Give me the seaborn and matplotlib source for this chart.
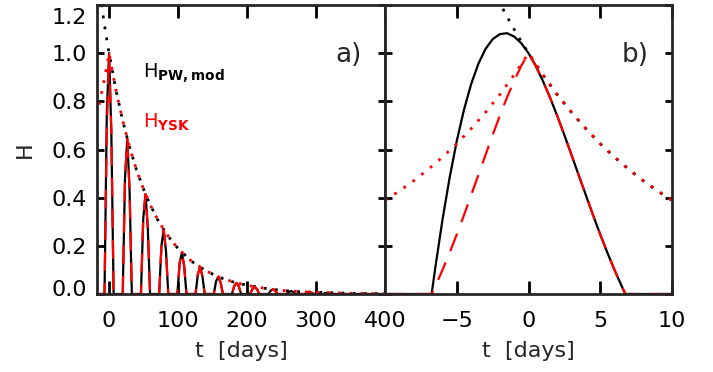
import matplotlib
matplotlib.use("Agg")
import matplotlib.pyplot as plt
import seaborn as sns
from matplotlib.transforms import ScaledTranslation

# ---------------- panel a) data (read from the picture) ----------------
t_a = [-18,
       -6.6, -3.3, 0.0, 3.3, 6.6,
       19.8, 23.1, 26.4, 29.7, 33.0,
       46.2, 49.5, 52.8, 56.1, 59.4,
       72.6, 75.9, 79.2, 82.5, 85.8,
       99.0, 102.3, 105.6, 108.9, 112.2,
       125.4, 128.7, 132.0, 135.3, 138.6,
       151.8, 155.1, 158.4, 161.7, 165.0,
       178.2, 181.5, 184.8, 188.1, 191.4,
       204.6, 207.9, 211.2, 214.5, 217.8,
       231.0, 234.3, 237.6, 240.9, 244.2,
       257.4, 260.7, 264.0, 267.3, 270.6,
       283.8, 287.1, 290.4, 293.7, 297.0,
       310.2, 313.5, 316.8, 320.1, 323.4,
       400]
h_pw_a = [0,
          0, 0.747, 1.000, 0.669, 0,
          0, 0.481, 0.644, 0.431, 0,
          0, 0.310, 0.415, 0.278, 0,
          0, 0.200, 0.267, 0.179, 0,
          0, 0.129, 0.172, 0.115, 0,
          0, 0.083, 0.111, 0.074, 0,
          0, 0.053, 0.071, 0.048, 0,
          0, 0.034, 0.046, 0.031, 0,
          0, 0.021, 0.030, 0.020, 0,
          0, 0.014, 0.019, 0.013, 0,
          0, 0.009, 0.012, 0.008, 0,
          0, 0.006, 0.008, 0.005, 0,
          0, 0.004, 0.005, 0.003, 0,
          0]
h_ysk_a = [0,
           0, 0.669, 1.000, 0.669, 0,
           0, 0.481, 0.644, 0.431, 0,
           0, 0.310, 0.415, 0.278, 0,
           0, 0.200, 0.267, 0.179, 0,
           0, 0.129, 0.172, 0.115, 0,
           0, 0.083, 0.111, 0.074, 0,
           0, 0.053, 0.071, 0.048, 0,
           0, 0.034, 0.046, 0.031, 0,
           0, 0.021, 0.030, 0.020, 0,
           0, 0.014, 0.019, 0.013, 0,
           0, 0.009, 0.012, 0.008, 0,
           0, 0.006, 0.008, 0.005, 0,
           0, 0.004, 0.005, 0.003, 0,
           0]
t_env_a = [-18, -15, -12, -9, -6, -3, 0, 10, 20, 30, 40, 50, 60, 70, 80, 90,
           100, 120, 140, 160, 180, 200, 225, 250, 275, 300, 350, 400]
env_pw_a = [1.350, 1.284, 1.221, 1.162, 1.105, 1.051, 1.000, 0.846, 0.717,
            0.607, 0.513, 0.435, 0.368, 0.311, 0.264, 0.223, 0.189, 0.135,
            0.097, 0.069, 0.050, 0.036, 0.024, 0.015, 0.010, 0.007, 0.003, 0.001]
env_ysk_a = [0.741, 0.779, 0.819, 0.861, 0.905, 0.951, 1.000, 0.846, 0.717,
             0.607, 0.513, 0.435, 0.368, 0.311, 0.264, 0.223, 0.189, 0.135,
             0.097, 0.069, 0.050, 0.036, 0.024, 0.015, 0.010, 0.007, 0.003, 0.001]

# ---------------- panel b) data (read from the picture) ----------------
t_b = [-10, -6.75, -6.5, -6, -5.5, -5, -4.5, -4, -3.5, -3, -2.5, -2, -1.5, -1,
       -0.5, 0, 0.5, 1, 1.5, 2, 2.5, 3, 3.5, 4, 4.5, 5, 5.5, 6, 6.5, 6.75, 10]
h_pw_b = [0, 0, 0.107, 0.306, 0.482, 0.635, 0.764, 0.871, 0.955, 1.017, 1.058,
          1.079, 1.083, 1.069, 1.041, 1.000, 0.948, 0.885, 0.816, 0.740, 0.660,
          0.577, 0.493, 0.410, 0.327, 0.247, 0.171, 0.099, 0.032, 0, 0]
h_ysk_b = [0, 0, 0.032, 0.099, 0.171, 0.247, 0.327, 0.410, 0.493, 0.577, 0.660,
           0.740, 0.816, 0.885, 0.948, 1.000, 0.948, 0.885, 0.816, 0.740, 0.660,
           0.577, 0.493, 0.410, 0.327, 0.247, 0.171, 0.099, 0.032, 0, 0]
t_env_pw_b = [-2.5, -2, -1.5, -1, -0.5, 0, 1, 2, 3, 4, 5, 6, 7, 8, 9, 10]
env_pw_b = [1.266, 1.208, 1.152, 1.099, 1.048, 1.000, 0.910, 0.828, 0.754,
            0.686, 0.624, 0.568, 0.517, 0.470, 0.428, 0.389]
t_env_ysk_b = [-10, -9, -8, -7, -6, -5, -4, -3, -2, -1, 0, 1, 2, 3, 4, 5, 6, 7, 8, 9, 10]
env_ysk_b = [0.389, 0.428, 0.470, 0.517, 0.568, 0.624, 0.686, 0.754, 0.828, 0.910,
             1.000, 0.910, 0.828, 0.754, 0.686, 0.624, 0.568, 0.517, 0.470, 0.428, 0.389]

xticks_a = [0, 100, 200, 300, 400]
xticks_b = [-5, 0, 5, 10]
yticks = [0.0, 0.2, 0.4, 0.6, 0.8, 1.0, 1.2]
ytick_labels = ["0.0", "0.2", "0.4", "0.6", "0.8", "1.0", "1.2"]

# ---------------- style ----------------
sns.set_style("ticks")
plt.rcParams["font.family"] = ["DejaVu Sans"]
plt.rcParams["mathtext.fontset"] = "dejavusans"

fig = plt.figure(figsize=(7.13, 3.72), dpi=100)
ax1 = fig.add_axes([97 / 713, 1 - 294 / 372, 288 / 713, 289 / 372])
ax2 = fig.add_axes([385 / 713, 1 - 294 / 372, 287 / 713, 289 / 372])

LW = 1.6
dash = (0, (8.5, 5.5))

def draw(ax, t, pw, ysk, te_pw, epw, te_ysk, eysk, dot_off):
    sns.lineplot(x=t, y=pw, ax=ax, color="black", lw=LW, estimator=None,
                 sort=False, zorder=2)
    sns.lineplot(x=te_pw, y=epw, ax=ax, color="black", lw=2.0, estimator=None,
                 sort=False, linestyle=(dot_off, (1, 3)), zorder=2)
    sns.lineplot(x=t, y=ysk, ax=ax, color="red", lw=LW, estimator=None,
                 sort=False, linestyle=dash, zorder=3)
    sns.lineplot(x=te_ysk, y=eysk, ax=ax, color="red", lw=2.0, estimator=None,
                 sort=False, linestyle=(0, (1, 3)), zorder=3)

draw(ax1, t_a, h_pw_a, h_ysk_a, t_env_a, env_pw_a, t_env_a, env_ysk_a, 2)
draw(ax2, t_b, h_pw_b, h_ysk_b, t_env_pw_b, env_pw_b, t_env_ysk_b, env_ysk_b, 0)

ax1.set_xlim(-17.5, 400)
ax2.set_xlim(-10, 10)
for ax in (ax1, ax2):
    ax.set_ylim(0, 1.2)
    ax.set_yticks(yticks)
    for s in ax.spines.values():
        s.set_linewidth(2.0)
        s.set_visible(True)
        s.set_zorder(5)
    ax.tick_params(axis="x", which="major", direction="in", length=9.7,
                   width=2.0, top=True, bottom=True, labelsize=16, pad=12,
                   color="black", labelcolor="black")
    ax.tick_params(axis="y", which="major", direction="in", length=4.7,
                   width=2.0, left=True, right=True, labelsize=16, pad=7,
                   color="black", labelcolor="black")
    ax.set_xlabel("t  [days]", fontsize=16)
    ax.xaxis.set_label_coords(0.5, -0.162)
    ax.set_facecolor("white")

ax1.set_xticks(xticks_a)
ax1.set_xticklabels([str(v) for v in xticks_a])
ax2.set_xticks(xticks_b)
ax2.set_xticklabels(["\u22125", "0", "5", "10"])
ax1.set_yticklabels(ytick_labels)
ax2.set_yticklabels([])
ax1.set_ylabel("H", fontsize=16)
ax1.yaxis.set_label_coords(-0.215, 0.5)
ax2.set_ylabel("")

# IDL-style inward shift of the end y tick labels
ylabs = ax1.get_yticklabels()
ylabs[0].set_transform(ylabs[0].get_transform() +
                       ScaledTranslation(0, 0.06, fig.dpi_scale_trans))
ylabs[-1].set_transform(ylabs[-1].get_transform() +
                        ScaledTranslation(0, -0.11, fig.dpi_scale_trans))

ax1.text(0.875, 0.827, "a)", transform=ax1.transAxes, fontsize=19,
         ha="center", va="center")
ax2.text(0.871, 0.827, "b)", transform=ax2.transAxes, fontsize=19,
         ha="center", va="center")
ax1.text(0.160, 0.747, r"$\mathrm{H}_{\mathbf{PW,mod}}$", transform=ax1.transAxes,
         fontsize=14, color="black", ha="left", va="baseline")
ax1.text(0.160, 0.574, r"$\mathrm{H}_{\mathbf{YSK}}$", transform=ax1.transAxes,
         fontsize=14, color="red", ha="left", va="baseline")

fig.savefig("out.png", dpi=100, facecolor="white")
